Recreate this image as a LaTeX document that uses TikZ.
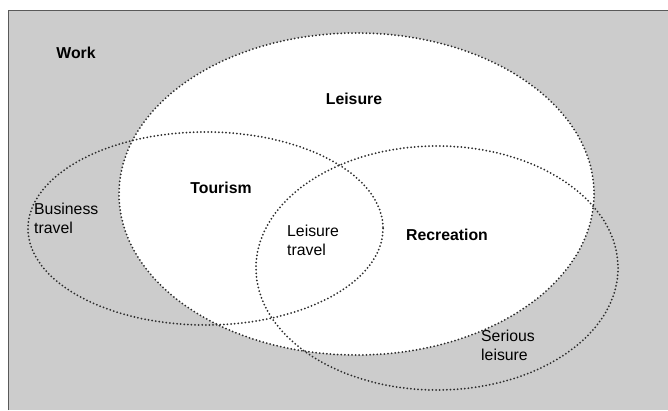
\documentclass[tikz,border=0pt]{standalone}
\usepackage{fontspec}
\setmainfont{Liberation Sans}
\definecolor{bggray}{RGB}{204,204,204}
\definecolor{dotgray}{RGB}{45,45,45}
\begin{document}
\begin{tikzpicture}[x=1pt,y=-1pt,
  zone/.style={draw=dotgray, line width=2pt, line cap=round, dash pattern=on 0pt off 3.6pt},
  boldlabel/.style={font=\fontsize{15.8}{19}\selectfont\bfseries, inner sep=0pt},
  plainlabel/.style={font=\fontsize{15.8}{19}\selectfont, align=left, inner sep=0pt, anchor=north west}]
\useasboundingbox (0,0) rectangle (668,410);
\fill[white] (0,0) rectangle (668,410);
\fill[bggray] (8,10) rectangle (668,410);
\draw[black!65, line width=1pt] (8,410) -- (8,10) -- (668,10);
% Leisure (white)
\fill[white] (356.5,194) ellipse [x radius=237.5, y radius=161];
\draw[zone] (356.5,194) ellipse [x radius=237.5, y radius=161];
% Tourism / business travel
\draw[zone] (205.5,228.5) ellipse [x radius=177.5, y radius=96.5];
% Recreation / serious leisure
\draw[zone] (437,268) ellipse [x radius=181, y radius=122];
% labels
\node[boldlabel] (work) at (76,53) {Work};
\node[boldlabel] (leisure) at (354,99) {Leisure};
\node[boldlabel] (tourism) at (221,188) {Tourism};
\node[boldlabel] (recreation) at (447,235) {Recreation};
\node[plainlabel] (business) at (34,203) {Business\\travel};
\node[plainlabel] (leisuretravel) at (287,225) {Leisure\\travel};
\node[plainlabel] (serious) at (481,330) {Serious\\leisure};
\end{tikzpicture}
\end{document}
